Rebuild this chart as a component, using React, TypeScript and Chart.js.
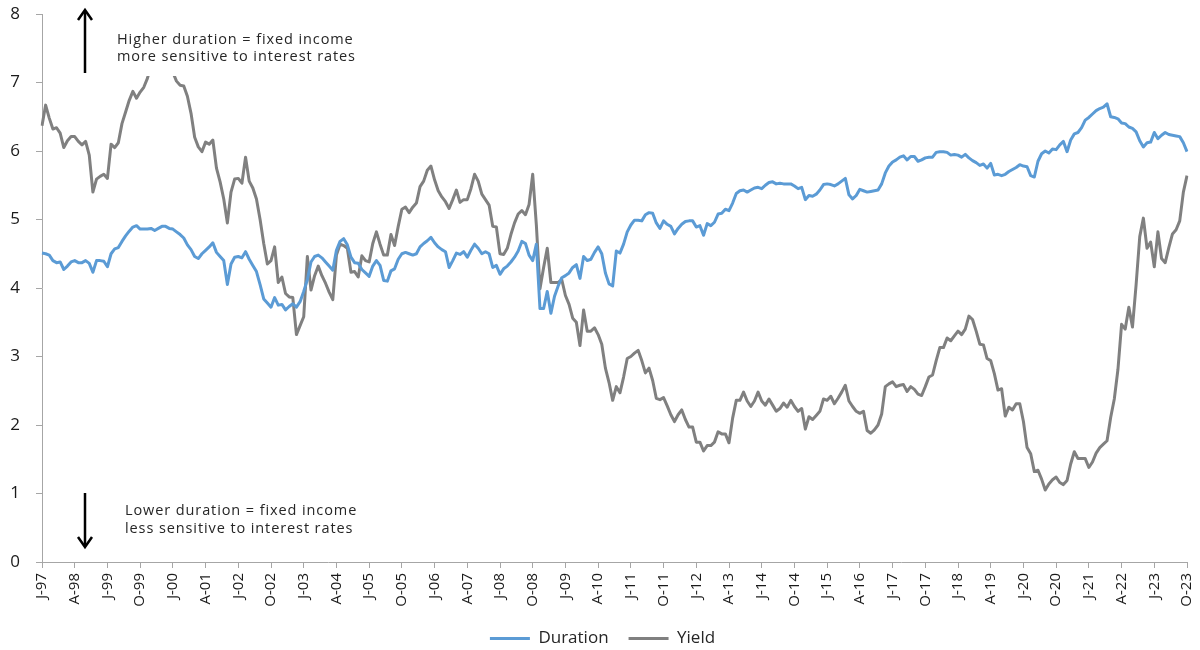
import React, { useEffect, useRef } from "react";
import { Chart, registerables } from "chart.js";

Chart.register(...registerables);

// Tick labels shown every 9 months (monthly data Jul-1997 .. Oct-2023)
const tickLabels = [
  "J-97", "A-98", "J-99", "O-99", "J-00", "A-01", "J-02", "O-02", "J-03", "A-04",
  "J-05", "O-05", "J-06", "A-07", "J-08", "O-08", "J-09", "A-10", "J-11", "O-11",
  "J-12", "A-13", "J-14", "O-14", "J-15", "A-16", "J-17", "O-17", "J-18", "A-19",
  "J-20", "O-20", "J-21", "A-22", "J-23", "O-23",
];
const tickEvery = 9;

const duration = [
  4.51, 4.50, 4.48, 4.40, 4.37, 4.38, 4.27, 4.32, 4.38, 4.40,
  4.37, 4.37, 4.40, 4.36, 4.23, 4.40, 4.40, 4.39, 4.31, 4.50,
  4.57, 4.59, 4.68, 4.76, 4.83, 4.89, 4.91, 4.86, 4.86, 4.86,
  4.87, 4.84, 4.87, 4.90, 4.90, 4.87, 4.86, 4.82, 4.78, 4.73,
  4.63, 4.56, 4.46, 4.43, 4.50, 4.55, 4.60, 4.66, 4.52, 4.46,
  4.40, 4.05, 4.35, 4.45, 4.46, 4.44, 4.53, 4.42, 4.33, 4.24,
  4.05, 3.84, 3.78, 3.72, 3.86, 3.75, 3.76, 3.68, 3.73, 3.77,
  3.72, 3.80, 3.95, 4.12, 4.38, 4.46, 4.48, 4.44, 4.38, 4.32,
  4.26, 4.55, 4.68, 4.72, 4.63, 4.45, 4.37, 4.36, 4.27, 4.22,
  4.17, 4.32, 4.40, 4.33, 4.11, 4.10, 4.25, 4.28, 4.42, 4.50,
  4.52, 4.50, 4.48, 4.50, 4.60, 4.65, 4.69, 4.74, 4.66, 4.60,
  4.56, 4.53, 4.30, 4.40, 4.51, 4.49, 4.53, 4.45, 4.55, 4.64,
  4.58, 4.50, 4.53, 4.50, 4.30, 4.33, 4.20, 4.28, 4.32, 4.38,
  4.45, 4.54, 4.68, 4.65, 4.48, 4.40, 4.64, 3.70, 3.70, 3.95,
  3.63, 3.88, 4.03, 4.15, 4.18, 4.22, 4.30, 4.34, 4.14, 4.46,
  4.40, 4.42, 4.52, 4.60, 4.50, 4.22, 4.06, 4.03, 4.54, 4.51,
  4.64, 4.82, 4.92, 4.99, 4.99, 4.98, 5.07, 5.10, 5.09, 4.95,
  4.87, 4.98, 4.93, 4.90, 4.79, 4.87, 4.93, 4.97, 4.98, 4.98,
  4.89, 4.91, 4.77, 4.94, 4.91, 4.96, 5.08, 5.09, 5.15, 5.13,
  5.24, 5.38, 5.42, 5.43, 5.40, 5.43, 5.46, 5.47, 5.45, 5.50,
  5.54, 5.55, 5.52, 5.53, 5.52, 5.52, 5.52, 5.49, 5.45, 5.47,
  5.29, 5.35, 5.34, 5.37, 5.43, 5.51, 5.52, 5.51, 5.49, 5.52,
  5.56, 5.60, 5.36, 5.30, 5.35, 5.44, 5.42, 5.40, 5.41, 5.42,
  5.43, 5.52, 5.68, 5.78, 5.84, 5.87, 5.91, 5.93, 5.87, 5.92,
  5.92, 5.85, 5.87, 5.90, 5.91, 5.91, 5.98, 5.99, 5.99, 5.98,
  5.94, 5.95, 5.94, 5.91, 5.95, 5.90, 5.86, 5.83, 5.79, 5.81,
  5.75, 5.82, 5.65, 5.66, 5.64, 5.66, 5.70, 5.73, 5.76, 5.80,
  5.78, 5.77, 5.64, 5.62, 5.85, 5.96, 6.00, 5.97, 6.03, 6.02,
  6.09, 6.14, 5.99, 6.16, 6.25, 6.27, 6.34, 6.45, 6.49, 6.54,
  6.59, 6.62, 6.64, 6.69, 6.50, 6.49, 6.47, 6.41, 6.40, 6.35,
  6.33, 6.28, 6.15, 6.06, 6.12, 6.13, 6.27, 6.18, 6.23, 6.27,
  6.24, 6.23, 6.22, 6.21, 6.12, 5.99,
];

const yieldValues = [
  6.37, 6.67, 6.48, 6.32, 6.34, 6.26, 6.05, 6.15, 6.21, 6.21,
  6.14, 6.09, 6.14, 5.94, 5.40, 5.59, 5.63, 5.66, 5.60, 6.10,
  6.05, 6.12, 6.40, 6.57, 6.74, 6.87, 6.77, 6.86, 6.93, 7.06,
  7.25, 7.40, 7.55, 7.50, 7.45, 7.30, 7.15, 7.02, 6.96, 6.95,
  6.80, 6.55, 6.20, 6.06, 5.99, 6.13, 6.10, 6.16, 5.75, 5.55,
  5.30, 4.95, 5.40, 5.59, 5.60, 5.53, 5.91, 5.56, 5.46, 5.30,
  5.00, 4.65, 4.35, 4.40, 4.60, 4.08, 4.16, 3.92, 3.87, 3.86,
  3.32, 3.45, 3.58, 4.46, 3.97, 4.18, 4.32, 4.18, 4.07, 3.94,
  3.83, 4.48, 4.64, 4.62, 4.58, 4.23, 4.24, 4.16, 4.47, 4.40,
  4.38, 4.65, 4.82, 4.64, 4.48, 4.48, 4.78, 4.62, 4.90, 5.15,
  5.18, 5.10, 5.18, 5.24, 5.48, 5.56, 5.72, 5.78, 5.58, 5.42,
  5.33, 5.26, 5.16, 5.29, 5.43, 5.25, 5.29, 5.29, 5.45, 5.66,
  5.56, 5.37, 5.29, 5.21, 4.90, 4.89, 4.50, 4.49, 4.58, 4.78,
  4.95, 5.08, 5.13, 5.07, 5.22, 5.66, 4.92, 3.99, 4.30, 4.58,
  4.08, 4.08, 4.08, 4.12, 3.89, 3.76, 3.56, 3.50, 3.16, 3.68,
  3.37, 3.37, 3.42, 3.32, 3.18, 2.83, 2.62, 2.36, 2.56, 2.47,
  2.70, 2.97, 3.00, 3.05, 3.09, 2.94, 2.76, 2.83, 2.65, 2.39,
  2.37, 2.40, 2.28, 2.15, 2.05, 2.15, 2.22, 2.08, 1.97, 1.97,
  1.75, 1.75, 1.62, 1.70, 1.70, 1.75, 1.90, 1.87, 1.87, 1.74,
  2.10, 2.36, 2.36, 2.48, 2.35, 2.27, 2.35, 2.48, 2.35, 2.29,
  2.38, 2.29, 2.20, 2.24, 2.32, 2.26, 2.36, 2.27, 2.20, 2.24,
  1.94, 2.12, 2.08, 2.14, 2.20, 2.38, 2.36, 2.42, 2.31, 2.39,
  2.48, 2.58, 2.35, 2.27, 2.20, 2.17, 2.20, 1.92, 1.88, 1.93,
  2.00, 2.16, 2.56, 2.60, 2.63, 2.56, 2.58, 2.59, 2.49, 2.56,
  2.52, 2.45, 2.43, 2.56, 2.70, 2.73, 2.94, 3.13, 3.13, 3.27,
  3.23, 3.30, 3.37, 3.32, 3.40, 3.59, 3.54, 3.37, 3.18, 3.17,
  2.97, 2.94, 2.75, 2.51, 2.53, 2.13, 2.26, 2.22, 2.31, 2.31,
  2.05, 1.67, 1.58, 1.32, 1.34, 1.21, 1.05, 1.14, 1.20, 1.24,
  1.16, 1.13, 1.19, 1.43, 1.61, 1.51, 1.51, 1.51, 1.38, 1.46,
  1.59, 1.67, 1.72, 1.77, 2.11, 2.38, 2.81, 3.47, 3.40, 3.72,
  3.43, 4.05, 4.75, 5.02, 4.58, 4.67, 4.31, 4.82, 4.43, 4.37,
  4.59, 4.79, 4.85, 4.98, 5.40, 5.64,
];

const seriesNames = ["Duration", "Yield"];
const seriesColors = ["#5b9bd5", "#808080"];
const yTicks = { min: 0, max: 8, step: 1 };
const annotationHigh = ["Higher duration = fixed income", "more sensitive to interest rates"];
const annotationLow = ["Lower duration = fixed income", "less sensitive to interest rates"];

const monthNames = ["Jan", "Feb", "Mar", "Apr", "May", "Jun", "Jul", "Aug", "Sep", "Oct", "Nov", "Dec"];
const startYear = 1997;
const startMonth = 6; // July
const categories = duration.map((_, i) => {
  const m = startMonth + i;
  return `${monthNames[m % 12]}-${String(startYear + Math.floor(m / 12)).slice(2)}`;
});

const FONT = "'Open Sans', 'DejaVu Sans', sans-serif";
const LEGEND_SHIFT = 9;

function drawArrow(ctx: CanvasRenderingContext2D, x: number, yFrom: number, yTo: number) {
  const dir = yTo < yFrom ? -1 : 1;
  ctx.beginPath();
  ctx.moveTo(x, yFrom);
  ctx.lineTo(x, yTo - dir * 1);
  ctx.stroke();
  ctx.beginPath();
  ctx.moveTo(x - 7, yTo - dir * 10);
  ctx.lineTo(x, yTo);
  ctx.lineTo(x + 7, yTo - dir * 10);
  ctx.stroke();
}

const annotationPlugin = {
  id: "durationAnnotations",
  afterLayout(chart: any) {
    if (chart.legend) {
      chart.legend.left += LEGEND_SHIFT;
      chart.legend.right += LEGEND_SHIFT;
    }
  },
  afterDatasetsDraw(chart: any) {
    const ctx: any = chart.ctx;
    ctx.save();
    ctx.fillStyle = "#ffffff";
    ctx.fillRect(108, 18, 244, 58);
    ctx.fillStyle = "#262626";
    ctx.font = `14.5px ${FONT}`;
    ctx.letterSpacing = "0.9px";
    ctx.textBaseline = "middle";
    ctx.textAlign = "left";
    ctx.fillText(annotationHigh[0], 117, 40);
    ctx.fillText(annotationHigh[1], 117, 57);
    ctx.fillText(annotationLow[0], 125, 511);
    ctx.fillText(annotationLow[1], 125, 529);
    ctx.letterSpacing = "0px";
    ctx.strokeStyle = "#000000";
    ctx.lineWidth = 2.5;
    ctx.lineCap = "butt";
    ctx.lineJoin = "miter";
    drawArrow(ctx, 85, 73, 10);
    drawArrow(ctx, 85, 493, 547);
    ctx.restore();
  },
};

export default function App() {
  const canvasRef = useRef<HTMLCanvasElement | null>(null);

  useEffect(() => {
    if (!canvasRef.current) return;
    const chart = new Chart(canvasRef.current, {
      type: "line",
      data: {
        labels: categories,
        datasets: [
          {
            label: seriesNames[0],
            data: duration,
            borderColor: seriesColors[0],
            backgroundColor: seriesColors[0],
            borderWidth: 3,
            pointRadius: 0,
            tension: 0,
            borderJoinStyle: "round",
          },
          {
            label: seriesNames[1],
            data: yieldValues,
            borderColor: seriesColors[1],
            backgroundColor: seriesColors[1],
            borderWidth: 3,
            pointRadius: 0,
            tension: 0,
            borderJoinStyle: "round",
          },
        ],
      },
      options: {
        animation: false,
        responsive: false,
        maintainAspectRatio: false,
        layout: { padding: { top: 14, right: 13, left: 0, bottom: 0 } },
        plugins: {
          legend: {
            position: "bottom",
            labels: {
              usePointStyle: true,
              pointStyle: "line",
              pointStyleWidth: 40,
              padding: 20,
              color: "#262626",
              font: { family: FONT, size: 17 },
            },
          },
          tooltip: { enabled: false },
        },
        scales: {
          x: {
            type: "category",
            offset: false,
            grid: {
              display: true,
              drawOnChartArea: false,
              drawTicks: true,
              tickLength: 6,
              color: "#a6a6a6",
            },
            border: { color: "#a6a6a6", width: 1 },
            ticks: {
              autoSkip: false,
              maxRotation: 90,
              minRotation: 90,
              padding: 5,
              color: "#1a1a1a",
              font: { family: FONT, size: 15 },
              callback: (_v: any, index: number) =>
                index % tickEvery === 0 ? tickLabels[index / tickEvery] : null,
            },
            afterFit: (scale: any) => {
              scale.height = 48;
              scale.paddingLeft = 0;
              scale.paddingRight = 0;
            },
          },
          y: {
            min: yTicks.min,
            max: yTicks.max,
            grid: {
              display: true,
              drawOnChartArea: false,
              drawTicks: true,
              tickLength: 6,
              color: "#a6a6a6",
            },
            border: { color: "#a6a6a6", width: 1 },
            ticks: {
              stepSize: yTicks.step,
              padding: 16,
              color: "#1a1a1a",
              font: { family: FONT, size: 17 },
            },
            afterFit: (scale: any) => {
              scale.width = 42;
              scale.paddingTop = 0;
              scale.paddingBottom = 0;
            },
          },
        },
      },
      plugins: [annotationPlugin],
    });
    return () => chart.destroy();
  }, []);

  return (
    <div style={{ position: "fixed", left: 0, top: 0, width: 1200, height: 657, background: "#fff" }}>
      <canvas ref={canvasRef} width={1200} height={657} style={{ width: 1200, height: 657 }} />
    </div>
  );
}
